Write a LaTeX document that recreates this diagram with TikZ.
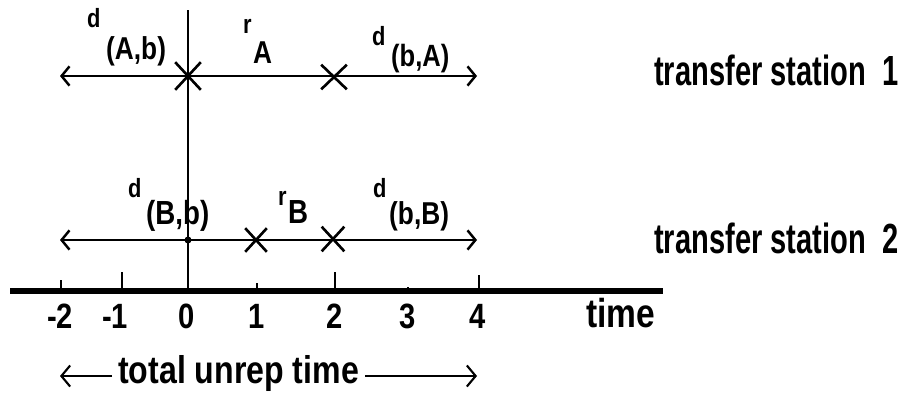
\documentclass[tikz,border=0pt]{standalone}
\usepackage{fontspec}
\setmainfont{Liberation Sans}[FakeStretch=0.83]
\newfontfamily\stationfont{Liberation Sans}[FakeStretch=0.69]
\usetikzlibrary{arrows.meta,shapes.misc}

\newcommand{\fs}[1]{\fontsize{#1}{#1}\selectfont\bfseries}

\begin{document}
\begin{tikzpicture}[x=0.02cm, y=-0.02cm, line width=1.4pt,
    tip/.style={{Straight Barb[length=4.5pt,width=11pt]}-{Straight Barb[length=4.5pt,width=11pt]}},
    lab/.style={inner sep=0pt, anchor=base west},
    xmark/.style={cross out, draw, inner sep=0pt, line width=1.5pt}]
\useasboundingbox (0,0) rectangle (901,399);

% time axis
\coordinate (axL) at (10,291);
\coordinate (axR) at (663,291);
\draw[line width=3.4pt] (axL) -- (axR);
\foreach \t/\x/\top/\lx in {-2/61/280/60, -1/122/272/115, 0/188/291/187, 1/257/283/257, 2/335/272/335, 3/408/287/408, 4/479/275/478} {
    \coordinate (tick\t) at (\x,291);
    \draw (tick\t) -- (\x,\top);
    \node[inner sep=0pt, anchor=base, font=\fs{20}] (num\t) at (\lx,328) {\t};
}
\node[lab, font=\fs{23}] (time) at (585,327) {time};

% line through 0
\coordinate (top0) at (188,10);
\draw (top0) -- (tick0);

% station 1
\coordinate (s1L) at (60,76);
\coordinate (s1R) at (477,76);
\draw[tip] (s1L) -- (s1R);
\node[xmark, minimum width=0.46cm, minimum height=0.5cm] (cA0) at (188,76) {};
\node[xmark, minimum width=0.46cm, minimum height=0.44cm] (cA2) at (334,77) {};
\node[lab, font=\fs{15}] (dAb) at (86,28) {d};
\node[lab, font=\fs{18}] (dAbsub) at (105,59) {(A,b)};
\node[lab, font=\fs{15}] (rA) at (242,33) {r};
\node[lab, font=\fs{18}] (rAsub) at (252,63) {A};
\node[lab, font=\fs{15}] (dbA) at (371,45) {d};
\node[lab, font=\fs{17.5}] (dbAsub) at (390,66) {(b,A)};
\node[lab, font=\stationfont\fs{24}] (st1) at (653,85) {transfer station\ \ 1};

% station 2
\coordinate (s2L) at (60,240);
\coordinate (s2R) at (477,240);
\draw[tip] (s2L) -- (s2R);
\node[circle, fill, inner sep=0pt, minimum size=0.14cm] (dotB) at (188,240) {};
\node[xmark, minimum width=0.38cm, minimum height=0.42cm] (cB1) at (256,240) {};
\node[xmark, minimum width=0.4cm, minimum height=0.44cm] (cB2) at (333,239) {};
\node[lab, font=\fs{15}] (dBb) at (127,197) {d};
\node[lab, font=\fs{19}] (dBbsub) at (145,224) {(B,b)};
\node[lab, font=\fs{15}] (rB) at (277,205) {r};
\node[lab, font=\fs{19}] (rBsub) at (287,223) {B};
\node[lab, font=\fs{15}] (dbB) at (372,197) {d};
\node[lab, font=\fs{18}] (dbBsub) at (388,224) {(b,B)};
\node[lab, font=\stationfont\fs{24}] (st2) at (653,253) {transfer station\ \ 2};

% total
\node[lab, inner xsep=0.1cm, font=\fs{22}] (tot) at (112,383) {total unrep time};
\coordinate (totL) at (60,376);
\coordinate (totR) at (477,376);
\draw[-{Straight Barb[length=5pt,width=12pt]}, line width=1.2pt] (tot.west |- totL) -- (totL);
\draw[-{Straight Barb[length=5pt,width=12pt]}, line width=1.2pt] (tot.east |- totR) -- (totR);
\end{tikzpicture}
\end{document}
